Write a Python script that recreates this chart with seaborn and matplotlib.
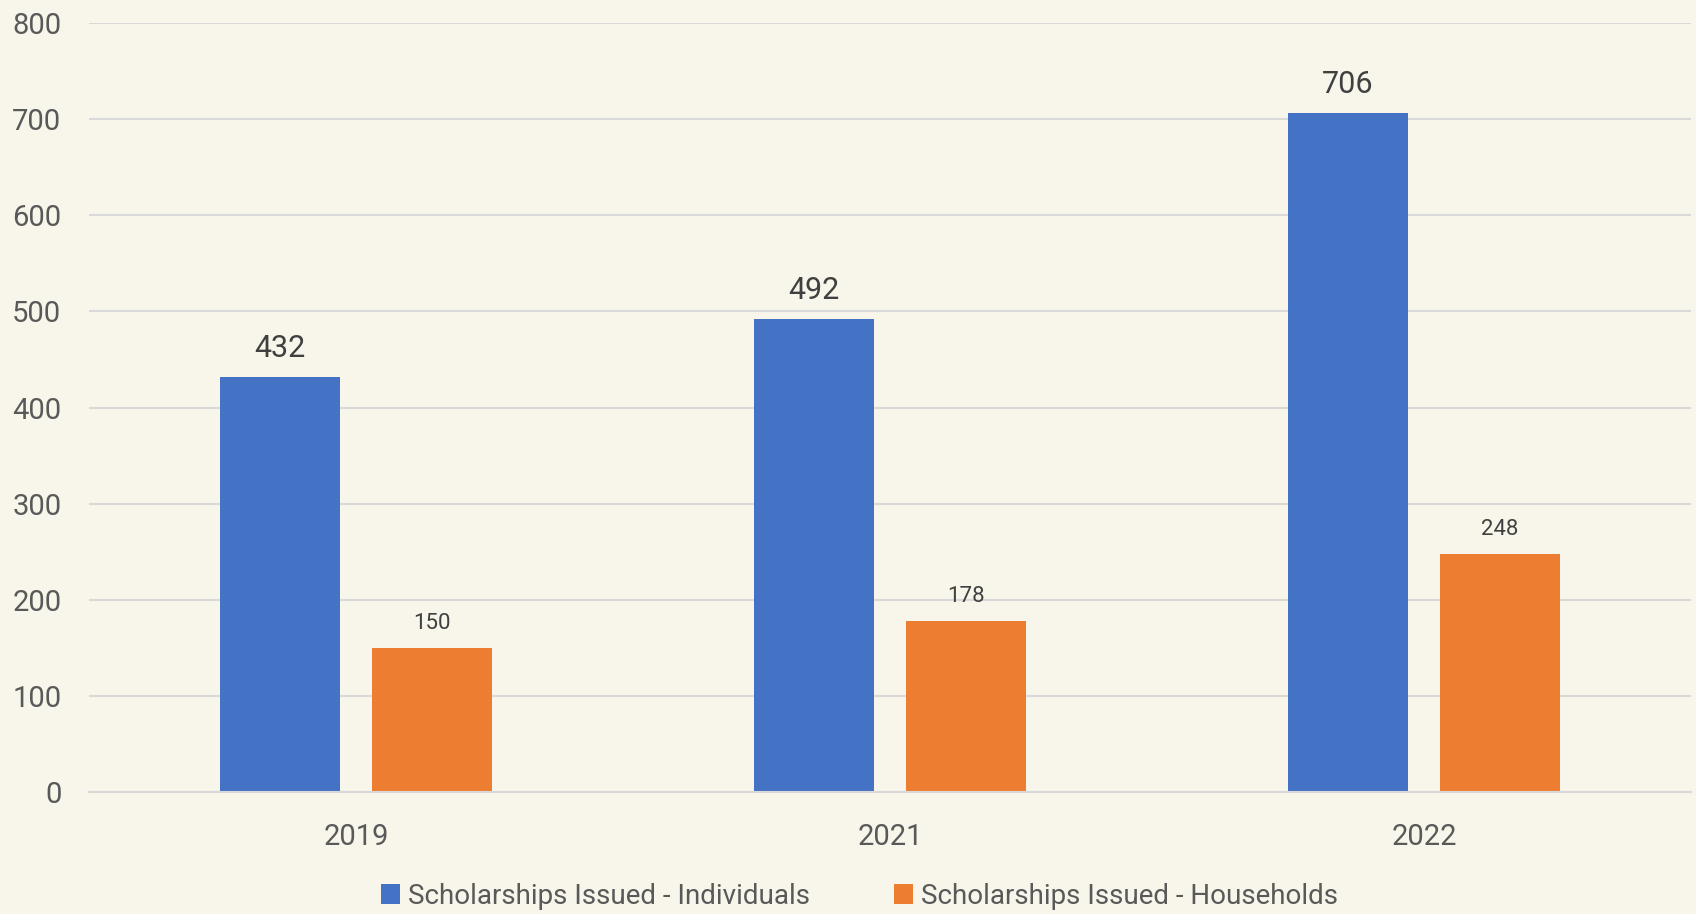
import matplotlib.pyplot as plt
import pandas as pd
import seaborn as sns

years = ["2019", "2021", "2022"]
individuals = [432, 492, 706]
households = [150, 178, 248]
series_names = ["Scholarships Issued - Individuals", "Scholarships Issued - Households"]
y_ticks = [0, 100, 200, 300, 400, 500, 600, 700, 800]

bg = "#F8F6EA"
colors = ["#4472C4", "#ED7D31"]

df = pd.DataFrame({
    "Year": years * 2,
    "Value": individuals + households,
    "Series": [series_names[0]] * 3 + [series_names[1]] * 3,
})

sns.set_theme(style="white")
plt.rcParams["font.family"] = ["Roboto", "DejaVu Sans"]

fig, ax = plt.subplots(figsize=(16.96, 9.14), dpi=100)
fig.patch.set_facecolor(bg)
ax.set_facecolor(bg)

sns.barplot(data=df, x="Year", y="Value", hue="Series", palette=colors,
            width=0.568, gap=0.208, ax=ax, saturation=1, edgecolor="none")

# value labels: bigger for individuals, smaller for households
ax.bar_label(ax.containers[0], padding=10, fontsize=22, color="#404040")
ax.bar_label(ax.containers[1], padding=10, fontsize=16, color="#404040")

ax.set_ylim(0, 800)
ax.set_xlim(-0.5, 2.5)
ax.set_yticks(y_ticks)
ax.yaxis.grid(True, color="#D9D9D9", linewidth=1.5)
ax.set_axisbelow(True)
ax.tick_params(axis="both", length=0, labelsize=21, labelcolor="#595959")
ax.tick_params(axis="x", pad=22)
ax.tick_params(axis="y", pad=20)
for side in ["top", "right", "left"]:
    ax.spines[side].set_visible(False)
ax.spines["bottom"].set_color("#D9D9D9")
ax.spines["bottom"].set_linewidth(1.5)
ax.set_xlabel("")
ax.set_ylabel("")

ax.legend(loc="upper center", bbox_to_anchor=(0.481, -0.085), ncol=2, frameon=False,
          fontsize=20, labelcolor="#595959", handlelength=0.7, handleheight=0.7,
          handletextpad=0.3, columnspacing=3.0)

fig.subplots_adjust(left=0.0525, right=0.997, top=0.975, bottom=0.133)
fig.savefig("out.png", facecolor=bg)
